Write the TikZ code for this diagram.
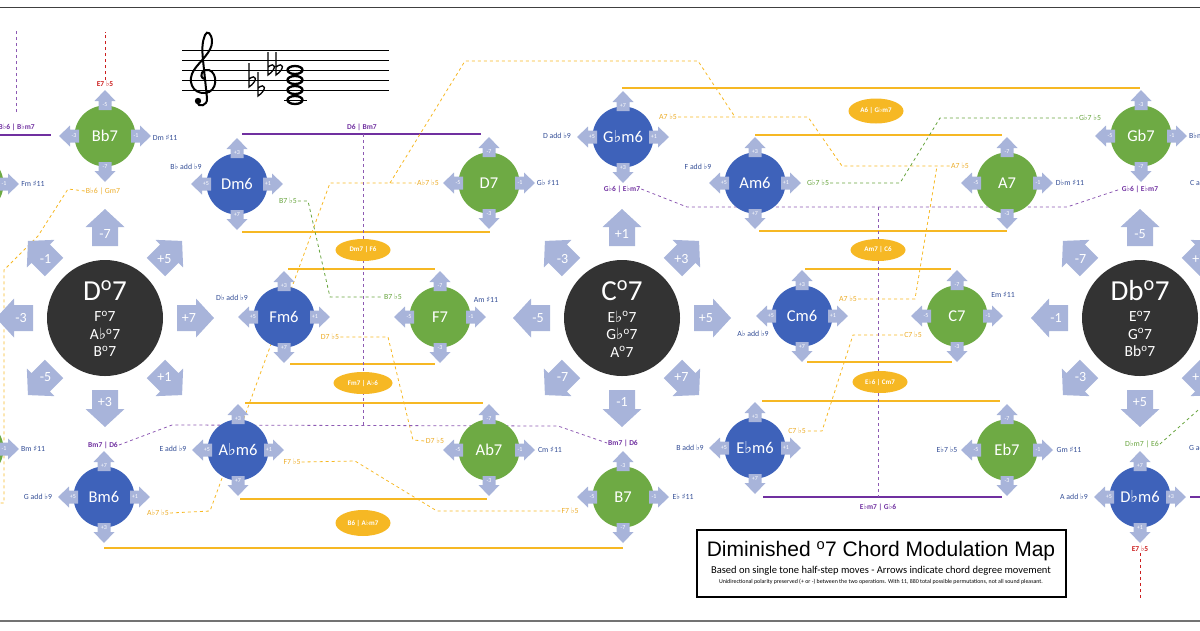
\documentclass[tikz,border=0pt]{standalone}
\usepackage{fontspec}
\setmainfont{Carlito}
\newfontfamily\symfont{DejaVu Sans}
\newfontfamily\arialfont{Liberation Sans}
\usepackage{tikz}
\usetikzlibrary{shapes.geometric}

\definecolor{dimgrey}{RGB}{51,51,51}
\definecolor{cblue}{RGB}{62,98,186}
\definecolor{cgreen}{RGB}{110,170,68}
\definecolor{arrowc}{RGB}{168,180,218}
\definecolor{gold}{RGB}{246,184,36}
\definecolor{goldtxt}{RGB}{236,172,40}
\definecolor{purp}{RGB}{112,48,160}
\definecolor{lblue}{RGB}{52,78,150}
\definecolor{lgreen}{RGB}{104,164,62}
\definecolor{lred}{RGB}{204,30,30}

\newcommand{\fl}{{\symfont ♭}}
\newcommand{\sh}{{\symfont ♯}}
\newcommand{\dg}{\textsuperscript{o}}

% big arrow round a dim chord: centre node, angle, name, text
\newcommand{\bigarr}[4]{%
  \fill[arrowc, shift={(#1)}, rotate=#2, xshift=72pt]
    (0,-13) -- (19,-13) -- (19,-19.5) -- (37,0) -- (19,19.5) -- (19,13) -- (0,13) -- cycle
    (12,0) node[bigtxt] (#3) {#4};
}
% small arrow round a chord: centre node, angle, name, text
\newcommand{\smallarr}[4]{%
  \fill[arrowc, shift={(#1)}, rotate=#2, xshift=26pt]
    (0,-6.5) -- (9,-6.5) -- (9,-10.5) -- (20,0) -- (9,10.5) -- (9,6.5) -- (0,6.5) -- cycle
    (5,0) node[smalltxt] (#3) {#4};
}
% chord: name, x, y, colour, text, top, right, bottom, left
\newcommand{\chord}[9]{%
  \node[chordnode, fill=#4] (#1) at (#2,#3) {#5};
  \smallarr{#1}{90}{#1-t}{#6}
  \smallarr{#1}{0}{#1-r}{#7}
  \smallarr{#1}{270}{#1-b}{#8}
  \smallarr{#1}{180}{#1-l}{#9}
}

\begin{document}
\begin{tikzpicture}[x=1pt,y=-1pt]
\tikzstyle{chordnode}=[circle,inner sep=0pt,minimum size=61pt,text=white,font=\fontsize{16.5}{16.5}\selectfont]
\tikzstyle{dimnode}=[circle,fill=dimgrey,inner sep=0pt,minimum size=116pt]
\tikzstyle{dimbig}=[text=white,inner sep=0pt,anchor=base,font=\fontsize{29}{29}\selectfont]
\tikzstyle{dimsmall}=[text=white,inner sep=0pt,align=center,font=\fontsize{15.5}{17.5}\selectfont]
\tikzstyle{bigtxt}=[text=white,inner sep=0pt,font=\fontsize{14}{14}\selectfont]
\tikzstyle{smalltxt}=[text=white,inner sep=0pt,font=\fontsize{6}{6}\selectfont]
\tikzstyle{lbl}=[inner sep=1pt,font=\fontsize{7.8}{7.8}\selectfont]
\tikzstyle{bluelbl}=[lbl,lblue]
\tikzstyle{greenlbl}=[lbl,lgreen]
\tikzstyle{goldlbl}=[lbl,goldtxt]
\tikzstyle{purplbl}=[lbl,purp,font=\bfseries\fontsize{7.5}{7.5}\selectfont]
\tikzstyle{redlbl}=[lbl,lred,font=\bfseries\fontsize{7.5}{7.5}\selectfont]
\tikzstyle{ellip}=[ellipse,fill=gold,text=white,inner sep=0pt,minimum width=55pt,minimum height=22pt,font=\bfseries\fontsize{7}{7}\selectfont]
\tikzstyle{goldline}=[gold,line width=2pt]
\tikzstyle{purpline}=[purp,line width=2pt]
\tikzstyle{golddash}=[gold,dashed,line width=0.8pt]
\tikzstyle{greendash}=[lgreen,dashed,line width=0.8pt]
\tikzstyle{purpdash}=[purp!80,dashed,line width=0.8pt]
\tikzstyle{reddash}=[lred,dashed,line width=0.8pt]

\useasboundingbox (0,0) rectangle (1200,630);
\clip (0,0) rectangle (1200,630);

% frame
\draw[line width=1.5pt,black!75] (0,7.5) -- (1200,7.5);
\draw[line width=2pt,black!55] (0,620.5) -- (1200,620.5);

% staff with the C dim chord
\draw[line width=0.9pt] (182,50) -- (389,50) (182,60) -- (389,60) (182,70) -- (389,70)
  (182,80) -- (389,80) (182,90) -- (389,90) (284,100) -- (307,100);
\draw[line width=2pt] (204,79) .. controls (198,76) and (203,68) .. (209,70)
  .. controls (218,73) and (218,92) .. (205,93)
  .. controls (192,94) and (187,80) .. (194,70)
  .. controls (200,61) and (212,52) .. (212,42)
  .. controls (212,33) and (207,30) .. (205,35)
  .. controls (202,42) and (202,50) .. (203,60)
  -- (207,98)
  .. controls (208,106) and (198,108) .. (197,102);
\fill (198,101) circle (3.2);
\draw[line width=1.3pt] (249,63) -- (249,87) .. controls (258,81) and (257,73) .. (249,79)
  (258,72) -- (258,96) .. controls (267,90) and (266,82) .. (258,88)
  (268,52) -- (268,75) .. controls (277,69) and (276,61) .. (268,67)
  (276,52) -- (276,75) .. controls (285,69) and (284,61) .. (276,67);
\draw[line width=2.3pt] (295,70) ellipse (7.5 and 4) (295,80) ellipse (7.5 and 4)
  (295,90) ellipse (7.5 and 4) (295,100) ellipse (7.5 and 4);

% solid lines
\draw[purpline] (0,135) -- (51,135);
\draw[purpline] (242,134) -- (481,134);
\draw[purpline] (763,497) -- (1002,497);
\draw[purpline] (1190,497) -- (1205,497);
\draw[goldline] (242,232) -- (490,232);
\draw[goldline] (288,269) -- (435,269);
\draw[goldline] (290,364) -- (435,364);
\draw[goldline] (245,403) -- (483,403);
\draw[goldline] (240,499) -- (487,499);
\draw[goldline] (104,548) -- (623,548);
\draw[goldline] (622,88) -- (1140,88);
\draw[goldline] (755,135) -- (1002,135);
\draw[goldline] (759,231) -- (1007,231);
\draw[goldline] (805,269) -- (951,269);
\draw[goldline] (807,362) -- (952,362);
\draw[goldline] (762,401) -- (1000,401);

% labels
\node[redlbl] (E7a) at (105,84) {E7 \fl5};
\node[redlbl] (E7b) at (1140,549) {E7 \fl5};
\node[bluelbl] (Dmsh) at (165,138) {Dm \sh11};
\node[bluelbl] (Bbadd) at (186,167) {B\fl{} add \fl9};
\node[bluelbl] (Gbsh) at (548,183) {G\fl{} \sh11};
\node[bluelbl] (Dbadd) at (232,298) {D\fl{} add \fl9};
\node[bluelbl] (Amsh) at (486,300) {Am \sh11};
\node[bluelbl] (Eadd) at (173,449) {E add \fl9};
\node[bluelbl] (Cmsh) at (550,450) {Cm \sh11};
\node[bluelbl] (Gadd) at (38,497) {G add \fl9};
\node[bluelbl] (Ebsh) at (683,497) {E\fl{} \sh11};
\node[bluelbl] (Fmsh) at (33,184) {Fm \sh11};
\node[bluelbl] (Bmsh) at (33,449) {Bm \sh11};
\node[bluelbl] (Dadd) at (557,136) {D add \fl9};
\node[bluelbl] (Fadd) at (698,167) {F add \fl9};
\node[bluelbl] (Dbmsh) at (1070,183) {D\fl m \sh11};
\node[bluelbl,anchor=west] (Bbmsh) at (1188,136) {B\fl m \sh11};
\node[bluelbl,anchor=west] (Cadd) at (1189,183) {C add \fl9};
\node[bluelbl] (Abadd) at (753,334) {A\fl{} add \fl9};
\node[bluelbl] (Emsh) at (1003,295) {Em \sh11};
\node[bluelbl] (Badd) at (690,448) {B add \fl9};
\node[bluelbl] (Ebfive) at (947,450) {E\fl7 \fl5};
\node[bluelbl] (Gmsh) at (1069,450) {Gm \sh11};
\node[bluelbl] (Aadd) at (1074,497) {A add \fl9};
\node[bluelbl,anchor=west] (Gaddr) at (1188,448) {G add \fl9};
\node[greenlbl] (Bfive-a) at (288,201) {B7 \fl5};
\node[greenlbl] (Bfive-b) at (393,297) {B7 \fl5};
\node[greenlbl] (Gbfive-a) at (818,183) {G\fl7 \fl5};
\node[greenlbl] (Gbfive-b) at (1090,118) {G\fl7 \fl5};
\node[greenlbl] (DbmE) at (1142,444) {D\fl m7 | E6};
\node[goldlbl] (BbGm) at (103,191) {B\fl6 | Gm7};
\node[goldlbl] (Abfive-a) at (158,513) {A\fl7 \fl5};
\node[goldlbl] (Abfive-b) at (428,183) {A\fl7 \fl5};
\node[goldlbl] (Dfive-a) at (330,337) {D7 \fl5};
\node[goldlbl] (Dfive-b) at (435,441) {D7 \fl5};
\node[goldlbl] (Ffive-a) at (292,462) {F7 \fl5};
\node[goldlbl] (Ffive-b) at (570,511) {F7 \fl5};
\node[goldlbl] (Afive-a) at (668,117) {A7 \fl5};
\node[goldlbl] (Afive-b) at (960,166) {A7 \fl5};
\node[goldlbl] (Afive-c) at (848,299) {A7 \fl5};
\node[goldlbl] (Cfive-a) at (913,335) {C7 \fl5};
\node[goldlbl] (Cfive-b) at (797,431) {C7 \fl5};
\node[purplbl,anchor=east] (BbBbm) at (36,127) {B\fl6 | B\fl m7};
\node[purplbl] (DBm) at (362,127) {D6 | Bm7};
\node[purplbl] (BmD-a) at (103,445) {Bm7 | D6};
\node[purplbl] (BmD-b) at (623,443) {Bm7 | D6};
\node[purplbl] (GbEbm-a) at (622,189) {G\fl6 | E\fl m7};
\node[purplbl] (GbEbm-b) at (1140,189) {G\fl6 | E\fl m7};
\node[purplbl] (EbmGb) at (878,507) {E\fl m7 | G\fl6};

% dashed connectors
\draw[golddash] (BbGm.west) -- (68,189) -- (38,236) -- (4,270) -- (4,503) -- (-8,503);
\draw[golddash] (Abfive-a.east) -- (210,511) -- (330,183) -- (Abfive-b.west);
\coordinate (jA) at (390,183);
\coordinate (jB) at (735,117);
\draw[golddash] (jA) -- (465,61) -- (698,61) -- (jB);
\draw[golddash] (Afive-a.east) -- (808,117) -- (842,166) -- (Afive-b.west);
\draw[golddash] (Afive-c.east) -- (915,299) -- (937,166);
\draw[golddash] (Cfive-a.west) -- (853,335) -- (822,431) -- (Cfive-b.east);
\draw[golddash] (Dfive-a.east) -- (388,337) -- (413,440) -- (Dfive-b.west);
\draw[golddash] (Ffive-a.east) -- (355,461) -- (437,511) -- (Ffive-b.west);
\draw[greendash] (Bfive-a.east) -- (308,201) -- (330,297) -- (Bfive-b.west);
\draw[greendash] (Gbfive-a.east) -- (900,183) -- (940,118) -- (Gbfive-b.west);
\draw[greendash] (DbmE.east) -- (1215,395);
\draw[purpdash] (16,112) -- (16,31);
\draw[purpdash] (363,134) -- (363,426);
\draw[purpdash] (BmD-a.east) -- (172,425) -- (558,426) -- (BmD-b.west);
\draw[purpdash] (GbEbm-a.east) -- (687,207) -- (1067,207) -- (GbEbm-b.west);
\draw[purpdash] (878,207) -- (878,497);
\draw[reddash] (E7a.north) -- (105,32);
\draw[reddash] (E7b.south) -- (1140,598);

% ellipses
\node[ellip] (DmF) at (363,250) {Dm7 | F6};
\node[ellip,minimum width=59pt] (FmAb) at (363,383) {Fm7 | A\fl6};
\node[ellip,minimum height=26pt] (BAbm) at (363,523) {B6 | A\fl m7};
\node[ellip,minimum height=25pt] (AGbm) at (876,111) {A6 | G\fl m7};
\node[ellip] (AmC) at (878,250) {Am7 | C6};
\node[ellip] (EbCm) at (880,382) {E\fl6 | Cm7};

% dim chords
\node[dimnode] (Dd) at (105,318) {};
\node[dimbig] (Dd-name) at (105,300) {D\dg7};
\node[dimsmall] (Dd-list) at (105,334) {F\dg7\\A\fl\dg7\\B\dg7};
\node[dimnode] (Cd) at (622,318) {};
\node[dimbig] (Cd-name) at (622,300) {C\dg7};
\node[dimsmall] (Cd-list) at (622,334) {E\fl\dg7\\G\fl\dg7\\A\dg7};
\node[dimnode] (Dbd) at (1140,318) {};
\node[dimbig] (Dbd-name) at (1140,300) {Db\dg7};
\node[dimsmall] (Dbd-list) at (1140,334) {E\dg7\\G\dg7\\Bb\dg7};
\bigarr{Dd}{90}{Dd-1}{-7}
\bigarr{Dd}{270}{Dd-2}{+3}
\bigarr{Dd}{0}{Dd-3}{+7}
\bigarr{Dd}{180}{Dd-4}{-3}
\bigarr{Dd}{135}{Dd-5}{-1}
\bigarr{Dd}{45}{Dd-6}{+5}
\bigarr{Dd}{225}{Dd-7}{-5}
\bigarr{Dd}{315}{Dd-8}{+1}
\bigarr{Cd}{90}{Cd-1}{+1}
\bigarr{Cd}{270}{Cd-2}{-1}
\bigarr{Cd}{0}{Cd-3}{+5}
\bigarr{Cd}{180}{Cd-4}{-5}
\bigarr{Cd}{135}{Cd-5}{-3}
\bigarr{Cd}{45}{Cd-6}{+3}
\bigarr{Cd}{225}{Cd-7}{-7}
\bigarr{Cd}{315}{Cd-8}{+7}
\bigarr{Dbd}{90}{Dbd-1}{-5}
\bigarr{Dbd}{270}{Dbd-2}{+5}
\bigarr{Dbd}{180}{Dbd-4}{-1}
\bigarr{Dbd}{135}{Dbd-5}{-7}
\bigarr{Dbd}{45}{Dbd-6}{+7}
\bigarr{Dbd}{225}{Dbd-7}{-3}
\bigarr{Dbd}{315}{Dbd-8}{+3}

% chords
\chord{Dbsl}{-27}{184}{cgreen}{}{}{-1}{}{}
\chord{Gsl}{-27}{449}{cgreen}{}{}{-1}{}{}
\chord{Bbs}{105}{136}{cgreen}{Bb7}{-5}{-1}{-7}{-3}
\chord{Dm}{237}{184}{cblue}{Dm6}{+3}{+1}{+7}{+5}
\chord{Ds}{489}{183}{cgreen}{D7}{-7}{-1}{-3}{-5}
\chord{Fm}{284}{317}{cblue}{Fm6}{+3}{+1}{+7}{+5}
\chord{Fs}{440}{317}{cgreen}{F7}{-7}{-1}{-3}{-5}
\chord{Abm}{238}{450}{cblue}{A\fl m6}{+3}{+1}{+7}{+5}
\chord{Abs}{489}{450}{cgreen}{Ab7}{-7}{-1}{-3}{-5}
\chord{Bm}{104}{497}{cblue}{Bm6}{+7}{+1}{+3}{+5}
\chord{Bs}{623}{497}{cgreen}{B7}{-3}{-1}{-7}{-5}
\chord{Gbm}{623}{137}{cblue}{G\fl m6}{+7}{+1}{+3}{+5}
\chord{Am}{755}{183}{cblue}{Am6}{+3}{+1}{+7}{+5}
\chord{As}{1007}{183}{cgreen}{A7}{-7}{-1}{-3}{-5}
\chord{Gbs}{1141}{136}{cgreen}{Gb7}{-3}{-1}{-7}{-5}
\chord{Cm}{802}{316}{cblue}{Cm6}{+3}{+1}{+7}{+5}
\chord{Cs}{957}{316}{cgreen}{C7}{-7}{-1}{-3}{-5}
\chord{Ebm}{755}{448}{cblue}{E\fl m6}{+3}{+1}{+7}{+5}
\chord{Ebs}{1007}{450}{cgreen}{Eb7}{-7}{-1}{-3}{-5}
\chord{Dbm}{1140}{497}{cblue}{D\fl m6}{+7}{+3}{+1}{+5}

% title
\node[draw=black,line width=1.2pt,minimum width=369pt,minimum height=67pt,inner sep=0pt] (titlebox) at (881.5,563.5) {};
\node[inner sep=0pt,font=\arialfont\fontsize{21}{21}\selectfont] (title) at (881,551) {Diminished \dg7 Chord Modulation Map};
\node[inner sep=0pt,font=\fontsize{10.5}{10.5}\selectfont] (subtitle) at (881,571) {Based on single tone half-step moves - Arrows indicate chord degree movement};
\node[inner sep=0pt,font=\fontsize{5.9}{5.9}\selectfont] (smallnote) at (881,582) {Unidirectional polarity preserved (+ or -) between the two operations. With 11, 880 total possible permutations, not all sound pleasant.};
\end{tikzpicture}
\end{document}
